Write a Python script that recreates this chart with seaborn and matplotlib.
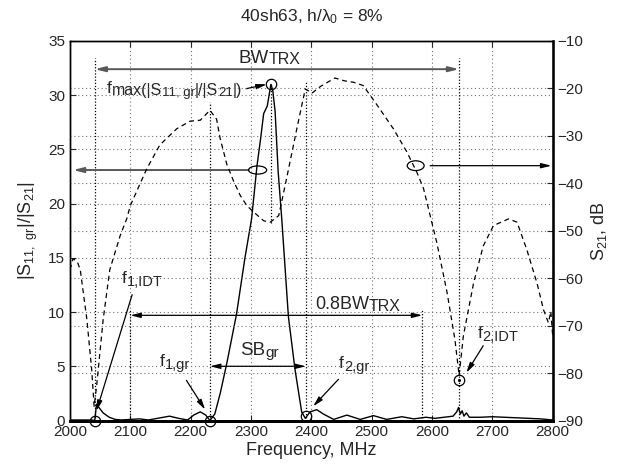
import matplotlib
matplotlib.use("Agg")
import matplotlib.pyplot as plt
import seaborn as sns
from matplotlib.patches import Ellipse

# |S11,gr|/|S21| (left axis)
freq_ratio = [2000, 2020, 2035, 2041, 2044, 2048, 2055, 2065, 2075, 2085, 2100, 2115,
              2130, 2145, 2165, 2180, 2195, 2205, 2216, 2225, 2232, 2240, 2249, 2260,
              2276, 2290, 2301, 2310, 2316, 2321, 2327, 2330, 2333, 2336, 2340, 2345,
              2351, 2362, 2373, 2384, 2390, 2398, 2409, 2420, 2437, 2459, 2481, 2503,
              2525, 2550, 2570, 2590, 2605, 2620, 2635, 2641, 2644, 2647, 2650, 2653,
              2657, 2662, 2680, 2700, 2720, 2740, 2760, 2780, 2800]
ratio = [0.05, 0.05, 0.05, 0.0, 1.5, 1.2, 0.7, 0.3, 0.1, 0.05, 0.1, 0.15,
         0.05, 0.2, 0.4, 0.2, 0.05, 0.5, 0.8, 0.5, 0.0, 0.6, 2.5, 5.3,
         9.8, 15.0, 18.6, 23.5, 26.0, 28.3, 29.0, 30.0, 31.0, 30.5, 28.5, 23.0,
         18.6, 9.6, 4.7, 0.8, 0.2, 0.8, 1.0, 0.6, 0.1, 0.5, 0.1, 0.45,
         0.1, 0.35, 0.15, 0.3, 0.2, 0.3, 0.4, 0.8, 1.2, 0.6, 0.9, 0.4,
         0.7, 0.3, 0.3, 0.35, 0.3, 0.25, 0.2, 0.15, 0.05]

# S21, dB (right axis)
freq_s21 = [2000, 2005, 2012, 2017, 2028, 2036, 2040, 2044, 2055, 2066, 2083, 2094,
            2100, 2127, 2149, 2177, 2199, 2216, 2232, 2243, 2249, 2260, 2271, 2282,
            2293, 2304, 2321, 2332, 2346, 2359, 2376, 2390, 2401, 2415, 2439, 2455,
            2470, 2486, 2509, 2536, 2558, 2575, 2586, 2608, 2625, 2638, 2645, 2652,
            2669, 2685, 2702, 2727, 2741, 2757, 2774, 2785, 2793, 2797, 2800]
s21_db = [-58.2, -55.9, -56.5, -58.2, -68.7, -79.3, -87.0, -82.9, -68.7, -58.2, -51.1, -47.5,
          -44.7, -37.0, -31.9, -28.5, -26.9, -26.7, -24.6, -26.5, -30.6, -36.0, -39.5, -42.5,
          -44.7, -46.0, -47.9, -48.2, -46.8, -39.0, -28.5, -20.1, -21.0, -19.6, -17.8, -18.4,
          -18.7, -19.4, -23.5, -28.5, -33.3, -37.7, -41.1, -52.5, -63.0, -72.9, -80.5, -72.2,
          -61.0, -53.2, -48.9, -47.5, -48.2, -53.9, -61.0, -66.7, -69.4, -67.0, -72.0]

# marked points (frequency, left-axis value)
mark_f = [2041, 2232, 2391, 2333, 2645]
mark_v = [0.0, 0.0, 0.4, 31.0, 3.7]

sns.set_style("ticks")
plt.rcParams['font.family'] = ['Liberation Sans', 'DejaVu Sans']
plt.rcParams['mathtext.default'] = 'regular'

fig = plt.figure(figsize=(6.26, 4.70), dpi=100)
ax = fig.add_axes([0.1118, 0.1053, 0.7710, 0.8075])
ax2 = ax.twinx()

sns.lineplot(x=freq_ratio, y=ratio, ax=ax, color='black', lw=1)
sns.lineplot(x=freq_s21, y=s21_db, ax=ax2, color='black', lw=0.9, linestyle=(0, (4, 3)))

ax.set_xlim(2000, 2800)
ax.set_ylim(0, 35)
ax2.set_ylim(-90, -10)
ax.set_xticks(range(2000, 2801, 100))
ax.set_yticks(range(0, 36, 5))
ax2.set_yticks(range(-90, -9, 10))

gkw = dict(color='0.45', ls=(0, (1, 2.5)), lw=0.8)
ax.grid(True, **gkw)
ax2.grid(True, axis='y', **gkw)
ax.set_axisbelow(True)

ax.tick_params(direction='in', top=True, right=False, labelsize=11, length=4)
ax2.tick_params(direction='in', labelsize=11, length=4)
for a in (ax, ax2):
    for s in a.spines.values():
        s.set_color('black')
        s.set_linewidth(1.0)
ax.spines['bottom'].set_linewidth(2)
ax2.spines['bottom'].set_linewidth(2)
ax2.spines['right'].set_linewidth(1.8)

ax.set_xlabel('Frequency, MHz', fontsize=13, labelpad=2)
ax.set_ylabel(r'|S$_{11,\ gr}$|/|S$_{21}$|', fontsize=13, labelpad=6)
ax2.set_ylabel(r'S$_{21}$, dB', fontsize=13, rotation=90, labelpad=4)
ax.set_title(r'40sh63, h/λ$_0$ = 8%', fontsize=12.5, pad=14)

# dotted marker lines
ax.vlines([2041, 2100, 2232, 2333, 2391, 2584, 2645],
          [0, 0, 0, 18.2, 0, 0, 0],
          [33.4, 10.2, 29.4, 31.0, 31.2, 10.2, 33.4],
          colors='black', linestyles=(0, (1, 1.5)), lw=0.9, zorder=3)

ax.plot(mark_f, mark_v, 'o', mfc='none', mec='black', ms=7.5, mew=0.9,
        clip_on=False, zorder=5)
ax.plot([2645], [3.7], '.', color='black', ms=2.5, zorder=5)


def arrow(x0, y0, x1, y1, style='-|>', color='black', lw=0.9):
    ax.annotate('', xy=(x1, y1), xytext=(x0, y0), zorder=6,
                arrowprops=dict(arrowstyle=style + ',head_length=0.6,head_width=0.15',
                                color=color, lw=lw, shrinkA=0, shrinkB=0))


arrow(2041, 32.4, 2645, 32.4, '<|-|>', '0.35', 1.4)
arrow(2100, 9.7, 2584, 9.7, '<|-|>')
arrow(2232, 5.0, 2391, 5.0, '<|-|>')
arrow(2296, 23.1, 2005, 23.1, '-|>', '0.35', 1.4)
arrow(2597, 23.5, 2798, 23.5)
arrow(2292, 30.6, 2326, 31.0)
arrow(2103, 11.6, 2044, 0.9)
arrow(2193, 3.7, 2224, 1.0)
arrow(2445, 3.8, 2403, 1.3)
arrow(2685, 6.9, 2657, 4.4)

ax.add_patch(Ellipse((2311, 23.1), 30, 0.75, fill=False, ec='black', lw=0.9, zorder=6))
ax.add_patch(Ellipse((2573, 23.5), 28, 0.9, fill=False, ec='black', lw=0.9, zorder=6))


# labels with Matlab-like (large) subscripts: list of (text, size, drop in pt)
def label(x, y, parts):
    first = ax.text(x, y, parts[0][0], fontsize=parts[0][1], ha='left',
                    va='baseline', zorder=7)
    prev = first
    for s, size, drop in parts[1:]:
        prev = ax.annotate(s, xy=(1, y), xycoords=(prev, 'data'),
                           xytext=(0, -drop), textcoords='offset points',
                           fontsize=size, ha='left', va='baseline', zorder=7)


label(2279, 33.0, [('BW', 13.5, 0), ('TRX', 11.5, 1.2)])
label(2061, 30.2, [('f', 12.5, 0), ('max(|S', 11.5, 1.2), ('11, gr', 9.5, 2.2),
                   ('|/|S', 11.5, 1.2), ('21', 9.5, 2.2), ('|)', 11.5, 1.2)])
label(2406, 10.25, [('0.8BW', 13, 0), ('TRX', 11.5, 1.2)])
label(2282, 6.0, [('SB', 13.5, 0), ('gr', 11, 1.2)])
label(2086, 12.7, [('f', 12.5, 0), ('1,IDT', 10.5, 2.4)])
label(2149, 5.06, [('f', 12.5, 0), ('1,gr', 10.5, 2.4)])
label(2446, 4.85, [('f', 12.5, 0), ('2,gr', 10.5, 2.4)])
label(2676, 7.63, [('f', 12.5, 0), ('2,IDT', 10.5, 2.4)])

fig.savefig('out.png', dpi=100)
